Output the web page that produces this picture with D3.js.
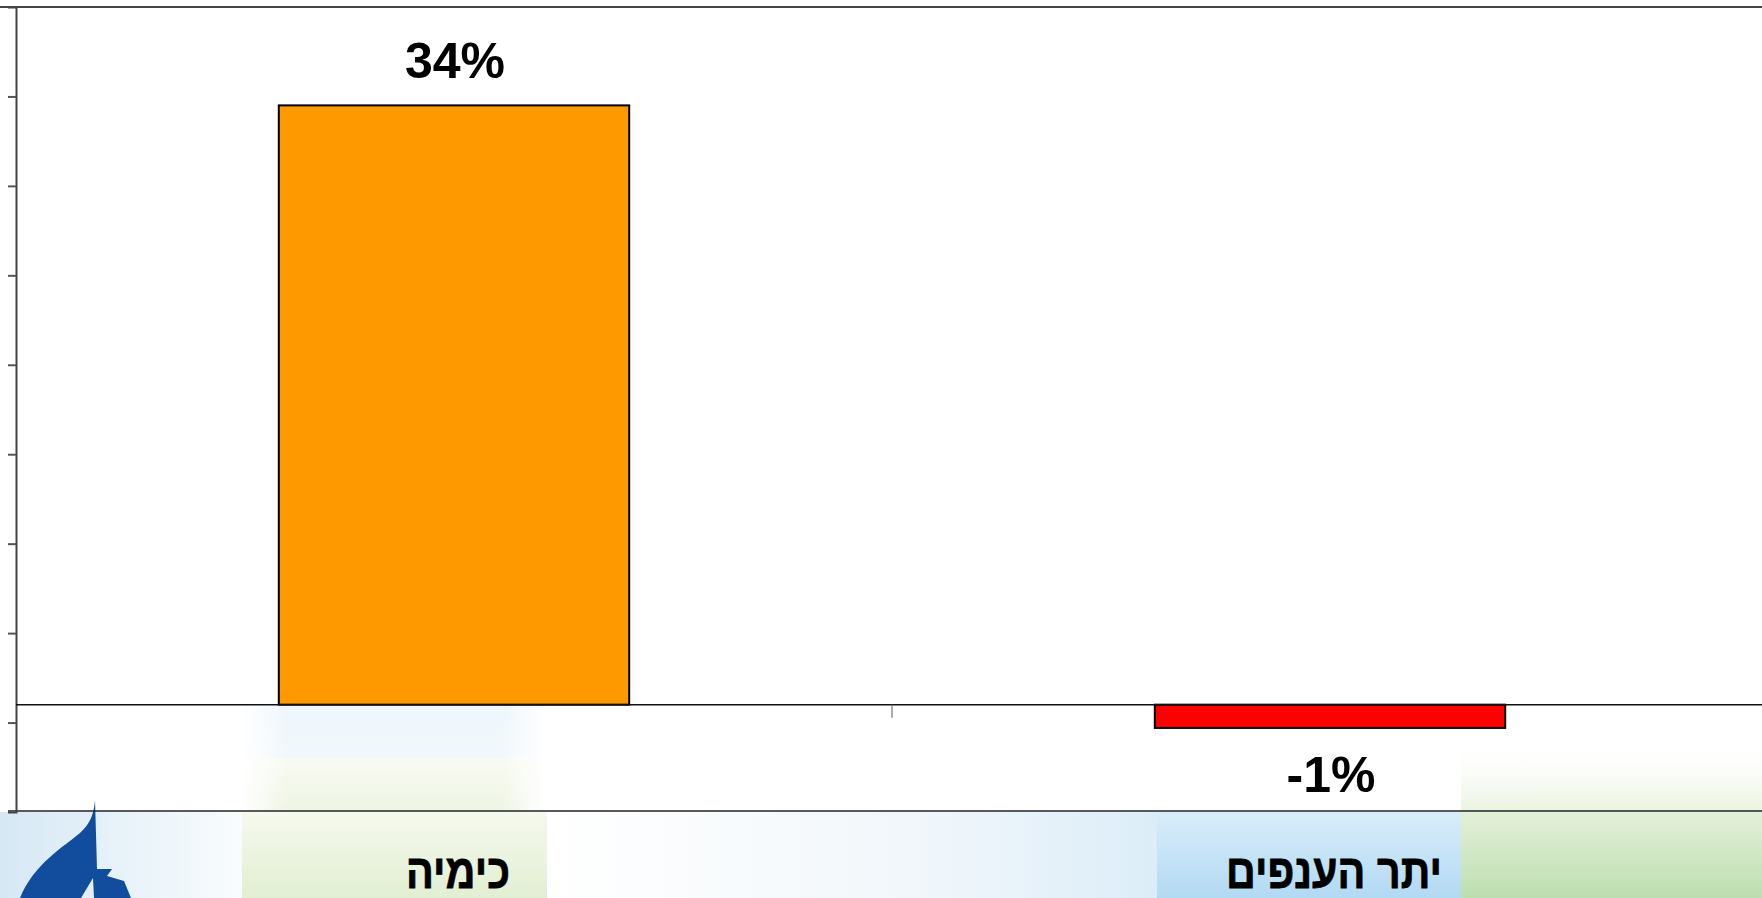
<!DOCTYPE html>
<html>
<head>
<meta charset="utf-8">
<script src="https://cdn.jsdelivr.net/npm/d3@7"></script>
<style>
  html, body { margin: 0; padding: 0; background: #ffffff; }
  svg { display: block; }
</style>
</head>
<body>
<svg id="chart" width="1762" height="898"></svg>
<script>
// ---- data ----
const categories = ["כימיה", "יתר הענפים"];
const values = [33.5, -1.3];
const barColors = ["#FF9900", "#FF0000"];
const yTickValues = [-1, 4, 9, 14, 19, 24, 29, 34];
const yDomain = [-6, 39];

const W = 1762, H = 898;
const plot = { left: 16, right: 1768, top: 7, bottom: 812 };
const svg = d3.select("#chart");
const defs = svg.append("defs");

// ---- slide background decoration ----
function grad(id, stops, vertical) {
  const g = defs.append("linearGradient").attr("id", id)
    .attr("x1", 0).attr("y1", 0)
    .attr("x2", vertical ? 0 : 1).attr("y2", vertical ? 1 : 0);
  stops.forEach(s => g.append("stop").attr("offset", s[0]).attr("stop-color", s[1]).attr("stop-opacity", s[2] == null ? 1 : s[2]));
}
grad("gBlueL", [[0, "#d6e8f5"], [1, "#f9fcfd"]], false);
grad("gGreenA", [[0, "#f5f9ee"], [1, "#e2efd2"]], true);
grad("gWhiteMid", [[0, "#ffffff"], [0.6, "#f1f7fb"], [1, "#dcedf8"]], false);
grad("gBlueR", [[0, "#d9edf9"], [1, "#b2d9f3"]], true);
grad("gGreenR", [[0, "#e4f0d9"], [1, "#bcdeb0"]], true);
grad("gFaintBlue", [[0, "#eef7fc"], [1, "#f1f8fc"]], true);
grad("gFaintGreen", [[0, "#f8fbf2"], [1, "#eef5e4"]], true);
grad("gFaintGreenR", [[0, "#ffffff", 0], [1, "#eaf3df", 1]], true);
grad("gSoftX", [[0, "#ffffff", 1], [0.15, "#ffffff", 0], [0.85, "#ffffff", 0], [1, "#ffffff", 1]], false);

const bg = svg.append("g").attr("class", "background");
bg.append("rect").attr("x", 0).attr("y", 812).attr("width", 242).attr("height", H - 812).attr("fill", "url(#gBlueL)");
bg.append("rect").attr("x", 242).attr("y", 812).attr("width", 305).attr("height", H - 812).attr("fill", "url(#gGreenA)");
bg.append("rect").attr("x", 547).attr("y", 812).attr("width", 610).attr("height", H - 812).attr("fill", "url(#gWhiteMid)");
bg.append("rect").attr("x", 1157).attr("y", 812).attr("width", 304).attr("height", H - 812).attr("fill", "url(#gBlueR)");
bg.append("rect").attr("x", 1461).attr("y", 812).attr("width", W - 1461).attr("height", H - 812).attr("fill", "url(#gGreenR)");
// faint watermark inside lower plot area
bg.append("rect").attr("x", 242).attr("y", 706).attr("width", 305).attr("height", 52).attr("fill", "url(#gFaintBlue)");
bg.append("rect").attr("x", 242).attr("y", 758).attr("width", 305).attr("height", 53).attr("fill", "url(#gFaintGreen)");
bg.append("rect").attr("x", 242).attr("y", 706).attr("width", 305).attr("height", 105).attr("fill", "url(#gSoftX)");
bg.append("rect").attr("x", 1461).attr("y", 740).attr("width", W - 1461).attr("height", 71).attr("fill", "url(#gFaintGreenR)");

// logo (sail)
bg.append("path")
  .attr("d", "M95,800 L97,869 L112,869 L107,876 L124,881 L131,898 L94,898 L93,878 L81,898 L20,898 C34,864 62,848 80,833 C90,824 94,814 95,800 Z")
  .attr("fill", "#124c9c");

// ---- scales ----
const x = d3.scaleBand().domain(categories).range([plot.left, plot.right]).paddingInner(0.6).paddingOuter(0.3);
const y = d3.scaleLinear().domain(yDomain).range([plot.bottom, plot.top]);

// ---- frame ----
svg.append("line").attr("x1", 0).attr("x2", W).attr("y1", plot.top).attr("y2", plot.top)
  .attr("stroke", "#444").attr("stroke-width", 2);
svg.append("line").attr("x1", 8).attr("x2", W).attr("y1", plot.bottom - 1).attr("y2", plot.bottom - 1)
  .attr("stroke", "#222").attr("stroke-width", 1.5);

// y axis (no labels)
const yAxis = d3.axisLeft(y).tickValues(yTickValues).tickSize(8).tickFormat("");
const gy = svg.append("g").attr("transform", `translate(${plot.left},0)`).call(yAxis);
gy.select(".domain").attr("stroke", "#444").attr("stroke-width", 2);
gy.selectAll(".tick line").attr("stroke", "#555").attr("stroke-width", 2);

// ---- bars ----
const data = categories.map((c, i) => ({ c, v: values[i], color: barColors[i] }));
svg.append("g").selectAll("rect").data(data).join("rect")
  .attr("x", d => x(d.c))
  .attr("width", x.bandwidth())
  .attr("y", d => y(Math.max(0, d.v)))
  .attr("height", d => Math.abs(y(d.v) - y(0)))
  .attr("fill", d => d.color)
  .attr("stroke", "#000").attr("stroke-width", 2);

// zero line (category axis)
svg.append("line").attr("x1", plot.left).attr("x2", W).attr("y1", y(0)).attr("y2", y(0))
  .attr("stroke", "#111").attr("stroke-width", 1.5);
// category divider tick
svg.append("line")
  .attr("x1", x(categories[0]) + x.bandwidth() / 2 + x.step() / 2)
  .attr("x2", x(categories[0]) + x.bandwidth() / 2 + x.step() / 2)
  .attr("y1", y(0)).attr("y2", y(0) + 13)
  .attr("stroke", "#777").attr("stroke-width", 1.2);

// ---- value labels ----
const fontFam = "'Liberation Sans', Arial, 'DejaVu Sans', sans-serif";
svg.append("g").selectAll("text").data(data).join("text")
  .attr("x", d => x(d.c) + x.bandwidth() / 2 + 1)
  .attr("y", d => d.v >= 0 ? y(d.v) - 27 : y(d.v) + 64)
  .attr("text-anchor", "middle")
  .attr("font-family", fontFam).attr("font-weight", "bold").attr("font-size", 50)
  .attr("fill", "#000")
  .text(d => Math.round(d.v) + "%");

// ---- category labels (condensed bold) ----
svg.append("g").selectAll("text").data(categories).join("text")
  .attr("transform", d => `translate(${x(d) + x.bandwidth() / 2 + 4},888) scale(0.86,1)`)
  .attr("text-anchor", "middle")
  .attr("font-family", fontFam).attr("font-weight", "bold").attr("font-size", 48)
  .attr("stroke", "#000").attr("stroke-width", 0.8)
  .attr("fill", "#000")
  .text(d => d);
</script>
</body>
</html>
